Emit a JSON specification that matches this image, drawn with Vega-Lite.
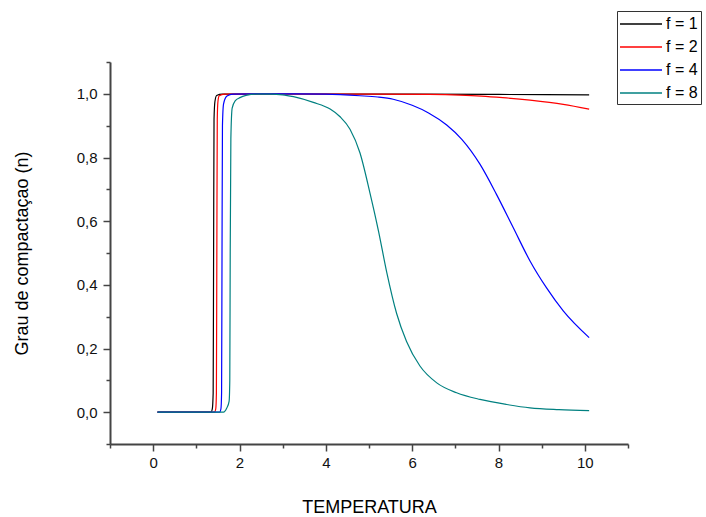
{
  "$schema": "https://vega.github.io/schema/vega-lite/v6.json",
  "width": 518,
  "height": 382,
  "autosize": {"type": "none"},
  "padding": {"left": 110, "top": 62, "right": 78, "bottom": 73},
  "background": "white",
  "config": {
    "view": {"stroke": null},
    "font": "Liberation Sans",
    "axis": {"labelFont": "Liberation Sans", "titleFont": "Liberation Sans", "labelColor": "#111", "titleColor": "#000", "titleFontWeight": "normal", "domainColor": "#444", "tickColor": "#444", "grid": false}
  },
  "datasets": {
    "curves": [
      {"T": 0.1, "n": 0, "f": "f = 1"}, {"T": 1.34, "n": 0, "f": "f = 1"}, {"T": 1.37, "n": 0.01, "f": "f = 1"}, {"T": 1.39, "n": 0.06, "f": "f = 1"}, {"T": 1.40, "n": 0.5, "f": "f = 1"}, {"T": 1.41, "n": 0.92, "f": "f = 1"}, {"T": 1.43, "n": 0.975, "f": "f = 1"}, {"T": 1.47, "n": 0.995, "f": "f = 1"}, {"T": 1.6, "n": 0.999, "f": "f = 1"}, {"T": 3, "n": 0.9995, "f": "f = 1"}, {"T": 6, "n": 0.999, "f": "f = 1"}, {"T": 8, "n": 0.998, "f": "f = 1"}, {"T": 10.1, "n": 0.997, "f": "f = 1"},
      {"T": 0.1, "n": 0, "f": "f = 2"}, {"T": 1.42, "n": 0, "f": "f = 2"}, {"T": 1.45, "n": 0.01, "f": "f = 2"}, {"T": 1.465, "n": 0.06, "f": "f = 2"}, {"T": 1.475, "n": 0.5, "f": "f = 2"}, {"T": 1.485, "n": 0.92, "f": "f = 2"}, {"T": 1.50, "n": 0.975, "f": "f = 2"}, {"T": 1.53, "n": 0.994, "f": "f = 2"}, {"T": 1.65, "n": 0.999, "f": "f = 2"}, {"T": 3, "n": 0.9995, "f": "f = 2"}, {"T": 5, "n": 0.999, "f": "f = 2"}, {"T": 6.4, "n": 0.998, "f": "f = 2"}, {"T": 7.1, "n": 0.996, "f": "f = 2"}, {"T": 7.6, "n": 0.993, "f": "f = 2"}, {"T": 8.1, "n": 0.988, "f": "f = 2"}, {"T": 8.73, "n": 0.98, "f": "f = 2"}, {"T": 9.5, "n": 0.967, "f": "f = 2"}, {"T": 10.1, "n": 0.952, "f": "f = 2"},
      {"T": 0.1, "n": 0, "f": "f = 4"}, {"T": 1.54, "n": 0, "f": "f = 4"}, {"T": 1.57, "n": 0.01, "f": "f = 4"}, {"T": 1.585, "n": 0.06, "f": "f = 4"}, {"T": 1.595, "n": 0.5, "f": "f = 4"}, {"T": 1.605, "n": 0.9, "f": "f = 4"}, {"T": 1.63, "n": 0.968, "f": "f = 4"}, {"T": 1.71, "n": 0.993, "f": "f = 4"}, {"T": 1.85, "n": 0.999, "f": "f = 4"}, {"T": 3, "n": 1.0, "f": "f = 4"}, {"T": 4.0, "n": 0.999, "f": "f = 4"}, {"T": 4.79, "n": 0.994, "f": "f = 4"}, {"T": 5.2, "n": 0.99, "f": "f = 4"}, {"T": 5.56, "n": 0.983, "f": "f = 4"}, {"T": 6.0, "n": 0.964, "f": "f = 4"}, {"T": 6.38, "n": 0.94, "f": "f = 4"}, {"T": 6.8, "n": 0.902, "f": "f = 4"}, {"T": 7.15, "n": 0.857, "f": "f = 4"}, {"T": 7.57, "n": 0.779, "f": "f = 4"}, {"T": 7.95, "n": 0.685, "f": "f = 4"}, {"T": 8.34, "n": 0.58, "f": "f = 4"}, {"T": 8.73, "n": 0.475, "f": "f = 4"}, {"T": 9.11, "n": 0.391, "f": "f = 4"}, {"T": 9.5, "n": 0.318, "f": "f = 4"}, {"T": 10.1, "n": 0.234, "f": "f = 4"},
      {"T": 0.1, "n": 0, "f": "f = 8"}, {"T": 1.63, "n": 0, "f": "f = 8"}, {"T": 1.705, "n": 0.013, "f": "f = 8"}, {"T": 1.76, "n": 0.035, "f": "f = 8"}, {"T": 1.775, "n": 0.1, "f": "f = 8"}, {"T": 1.785, "n": 0.5, "f": "f = 8"}, {"T": 1.80, "n": 0.86, "f": "f = 8"}, {"T": 1.83, "n": 0.955, "f": "f = 8"}, {"T": 1.90, "n": 0.978, "f": "f = 8"}, {"T": 2.01, "n": 0.988, "f": "f = 8"}, {"T": 2.15, "n": 0.995, "f": "f = 8"}, {"T": 2.4, "n": 0.999, "f": "f = 8"}, {"T": 2.71, "n": 0.999, "f": "f = 8"}, {"T": 3.0, "n": 0.997, "f": "f = 8"}, {"T": 3.25, "n": 0.991, "f": "f = 8"}, {"T": 3.71, "n": 0.973, "f": "f = 8"}, {"T": 4.1, "n": 0.952, "f": "f = 8"}, {"T": 4.33, "n": 0.928, "f": "f = 8"}, {"T": 4.56, "n": 0.889, "f": "f = 8"}, {"T": 4.79, "n": 0.815, "f": "f = 8"}, {"T": 5.02, "n": 0.69, "f": "f = 8"}, {"T": 5.22, "n": 0.569, "f": "f = 8"}, {"T": 5.41, "n": 0.44, "f": "f = 8"}, {"T": 5.64, "n": 0.31, "f": "f = 8"}, {"T": 5.87, "n": 0.222, "f": "f = 8"}, {"T": 6.18, "n": 0.145, "f": "f = 8"}, {"T": 6.57, "n": 0.092, "f": "f = 8"}, {"T": 7.03, "n": 0.061, "f": "f = 8"}, {"T": 7.57, "n": 0.04, "f": "f = 8"}, {"T": 8.19, "n": 0.024, "f": "f = 8"}, {"T": 8.73, "n": 0.0135, "f": "f = 8"}, {"T": 9.4, "n": 0.008, "f": "f = 8"}, {"T": 10.1, "n": 0.005, "f": "f = 8"}
    ]
  },
  "data": {"name": "curves"},
  "layer": [
    {
      "mark": {"type": "line", "interpolate": "monotone", "strokeWidth": 1.2},
      "encoding": {
        "x": {"field": "T", "type": "quantitative", "scale": {"domain": [-1, 11], "nice": false, "zero": false},
          "axis": {"orient": "bottom", "values": [0, 2, 4, 6, 8, 10], "tickSize": 7, "tickWidth": 1.5, "domainWidth": 2, "labelFontSize": 15, "labelPadding": 4, "format": "d", "title": "TEMPERATURA", "titleFontSize": 18, "titlePadding": 28}},
        "y": {"field": "n", "type": "quantitative", "scale": {"domain": [-0.1, 1.1], "nice": false, "zero": false},
          "axis": {"orient": "left", "values": [0, 0.2, 0.4, 0.6, 0.8, 1.0], "tickSize": 7, "tickWidth": 1.5, "domainWidth": 2, "labelFontSize": 15, "labelPadding": 6, "labelExpr": "replace(format(datum.value, '.1f'), '.', ',')", "title": "Grau de compactaçao (n)", "titleFontSize": 18, "titlePadding": 45}},
        "color": {"field": "f", "type": "nominal", "scale": {"domain": ["f = 1", "f = 2", "f = 4", "f = 8"], "range": ["#000000", "#ff0000", "#0000ff", "#008080"]},
          "legend": {"orient": "none", "legendX": 507, "legendY": -51, "title": null, "strokeColor": "#333", "padding": 3, "symbolType": "M-2.333,0H2.333", "symbolSize": 324, "symbolOffset": 11, "symbolStrokeWidth": 1.5, "rowPadding": 5, "labelFontSize": 16, "labelFont": "Liberation Sans", "labelColor": "#000", "labelOffset": 15}}
      }
    },
    {
      "mark": {"type": "point", "opacity": 0},
      "encoding": {
        "x": {"field": "T", "type": "quantitative", "axis": {"orient": "bottom", "values": [-1, 1, 3, 5, 7, 9, 11], "tickSize": 4, "tickWidth": 1.5, "labels": false, "domain": false, "title": null}},
        "y": {"field": "n", "type": "quantitative", "axis": {"orient": "left", "values": [-0.1, 0.1, 0.3, 0.5, 0.7, 0.9, 1.1], "tickSize": 4, "tickWidth": 1.5, "labels": false, "domain": false, "title": null}}
      }
    }
  ],
  "resolve": {"axis": {"x": "independent", "y": "independent"}}
}
